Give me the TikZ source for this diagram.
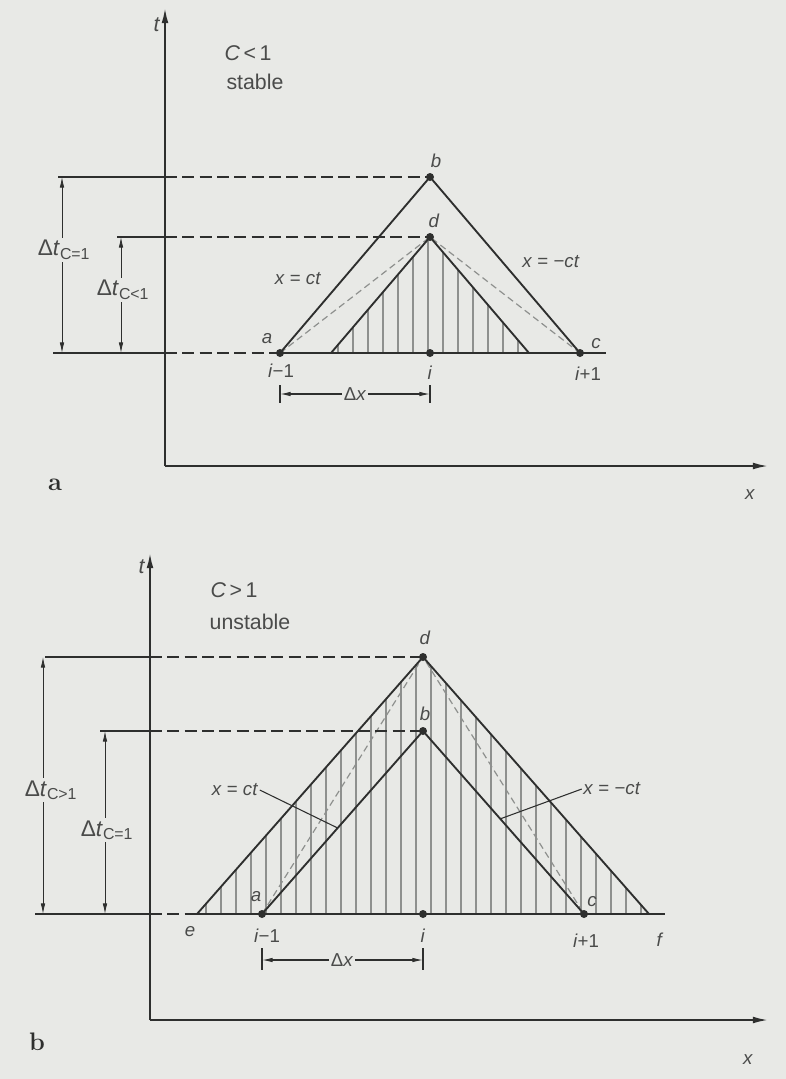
\documentclass[tikz,border=0pt]{standalone}
\usepackage{fontspec}
\setsansfont{Liberation Sans}
\usetikzlibrary{arrows.meta,calc}
\definecolor{paper}{HTML}{E8E9E6}
\definecolor{ink}{HTML}{2E2F2E}
\definecolor{txt}{HTML}{4A4B4A}
\definecolor{hatchc}{HTML}{8E908E}
\tikzset{
  >={Latex[length=2.8mm,width=1.2mm]},
  ax/.style={draw=ink, line width=1.4pt, -{Latex[length=4mm,width=1.8mm]}},
  edge/.style={draw=ink, line width=1.4pt},
  guide/.style={draw=ink, line width=0.9pt, dash pattern=on 9pt off 4pt},
  ref/.style={draw=ink, line width=0.8pt},
  dimv/.style={draw=ink, line width=0.6pt, <->},
  cfl/.style={draw=hatchc, line width=0.9pt, dash pattern=on 5pt off 3pt},
  hatch/.style={draw=hatchc, line width=0.9pt},
  lbl/.style={text=txt, font=\sffamily\fontsize{14}{14}\selectfont, inner sep=1pt},
  big/.style={lbl, font=\sffamily\fontsize{16}{16}\selectfont},
  dt/.style={lbl, font=\sffamily\fontsize{17}{17}\selectfont, fill=paper, inner sep=1.5pt},
  panel/.style={font=\rmfamily\bfseries\fontsize{19}{19}\selectfont, text=ink},
}
\begin{document}
\begin{tikzpicture}[x=0.75pt,y=-0.75pt]
  \path[fill=paper] (0,0) rectangle (786,1079);
  \useasboundingbox (0,0) rectangle (786,1079);
  % a: C<1
  \coordinate (o1) at (165,466); \coordinate (t1) at (165,8); \coordinate (x1) at (768,466);
  \coordinate (a1) at (280,353); \coordinate (i1) at (430,353); \coordinate (c1) at (580,353);
  \coordinate (b1) at (430,177); \coordinate (d1) at (430,237);
  \coordinate (l1) at (331,353); \coordinate (r1) at (529,353); \coordinate (g1) at (606,353);
  \coordinate (tb1) at (58,177); \coordinate (td1) at (117,237); \coordinate (tz1) at (53,353);
  \coordinate (v1) at (62,177); \coordinate (w1) at (121,237);
  \begin{scope}
    \clip (l1)--(d1)--(r1)--cycle;
    \foreach \x in {338,353,...,525} \draw[hatch] (\x,230)--(\x,353);
  \end{scope}
  \draw[cfl] (a1)--(d1)--(c1);
  \draw[edge] (a1)--(b1)--(c1); \draw[edge] (l1)--(d1)--(r1); \draw[edge] (a1)--(g1);
  \draw[ax] (o1)--(t1); \draw[ax] (o1)--(x1);
  \draw[ref] (tb1)--(tb1 -| o1); \draw[guide] (tb1 -| o1)--(b1);
  \draw[ref] (td1)--(td1 -| o1); \draw[guide] (td1 -| o1)--(d1);
  \draw[ref] (tz1)--(tz1 -| o1); \draw[guide] (tz1 -| o1)--(a1);
  \draw[dimv] (v1)--(v1 |- a1); \draw[dimv] (w1)--(w1 |- a1);
  \foreach \p in {a1,i1,c1,b1,d1} \fill[ink] (\p) circle (4);
  \node[dt] (dtb1) at (64,250) {Δ\textit{t}\textsubscript{C=1}};
  \node[dt] (dtd1) at (123,290) {Δ\textit{t}\textsubscript{C<1}};
  \draw[ref] ($(a1)+(0,32)$)--($(a1)+(0,50)$); \draw[ref] ($(i1)+(0,32)$)--($(i1)+(0,50)$);
  \node[lbl] (dx1) at (355,394) {Δ\textit{x}};
  \draw[ref,->] (dx1.west)--(a1 |- dx1); \draw[ref,->] (dx1.east)--(i1 |- dx1);
  \node[big] (nt1) at (157,25) {\textit{t}};
  \node[lbl] (nx1) at (750,495) {\textit{x}};
  \node[big] (nC1) at (248,53) {\textit{C}\,<\,1};
  \node[big] (ns1) at (255,82) {stable};
  \node[panel] (pa) at (55,485) {a};
  \node[lbl] (na1) at (267,339) {\textit{a}};
  \node[lbl] (nb1) at (436,161) {\textit{b}};
  \node[lbl] (nd1) at (434,221) {\textit{d}};
  \node[lbl] (nc1) at (596,344) {\textit{c}};
  \node[lbl] (ni1) at (430,373) {\textit{i}};
  \node[lbl] (nim1) at (281,371) {\textit{i}−1};
  \node[lbl] (nip1) at (588,374) {\textit{i}+1};
  \node[lbl] (xc1) at (298,279) {\textit{x} = \textit{ct}};
  \node[lbl] (xn1) at (551,262) {\textit{x} = −\textit{ct}};
  % b: C>1
  \coordinate (o2) at (150,1020); \coordinate (t2) at (150,553); \coordinate (x2) at (768,1020);
  \coordinate (e2) at (197,914); \coordinate (a2) at (262,914); \coordinate (i2) at (423,914);
  \coordinate (c2) at (584,914); \coordinate (f2) at (649,914); \coordinate (g2) at (665,914);
  \coordinate (b2) at (423,731); \coordinate (d2) at (423,657);
  \coordinate (td2) at (45,657); \coordinate (tb2) at (100,731); \coordinate (tz2) at (35,914);
  \coordinate (v2) at (43,657); \coordinate (w2) at (105,731);
  \begin{scope}
    \clip (e2)--(d2)--(f2)--cycle;
    \foreach \x in {206,221,...,646} \draw[hatch] (\x,650)--(\x,914);
  \end{scope}
  \draw[cfl] (a2)--(d2)--(c2);
  \draw[edge] (e2)--(d2)--(f2); \draw[edge] (a2)--(b2)--(c2); \draw[edge] (e2)--(g2);
  \draw[ax] (o2)--(t2); \draw[ax] (o2)--(x2);
  \draw[ref] (td2)--(td2 -| o2); \draw[guide] (td2 -| o2)--(d2);
  \draw[ref] (tb2)--(tb2 -| o2); \draw[guide] (tb2 -| o2)--(b2);
  \draw[ref] (tz2)--(tz2 -| o2); \draw[guide] (tz2 -| o2)--(e2);
  \draw[dimv] (v2)--(v2 |- a2); \draw[dimv] (w2)--(w2 |- a2);
  \foreach \p in {a2,i2,c2,b2,d2} \fill[ink] (\p) circle (4);
  \node[dt] (dtd2) at (51,790) {Δ\textit{t}\textsubscript{C>1}};
  \node[dt] (dtb2) at (107,830) {Δ\textit{t}\textsubscript{C=1}};
  \draw[ref] ($(a2)+(0,34)$)--($(a2)+(0,56)$); \draw[ref] ($(i2)+(0,34)$)--($(i2)+(0,56)$);
  \node[lbl] (dx2) at (342,960) {Δ\textit{x}};
  \draw[ref,->] (dx2.west)--(a2 |- dx2); \draw[ref,->] (dx2.east)--(i2 |- dx2);
  \node[lbl] (xc2) at (235,790) {\textit{x} = \textit{ct}};
  \draw[ref] (xc2.east)--($(a2)!0.47!(b2)$);
  \node[lbl] (xn2) at (612,789) {\textit{x} = −\textit{ct}};
  \draw[ref] (xn2.west)--($(b2)!0.48!(c2)$);
  \node[big] (nt2) at (142,567) {\textit{t}};
  \node[lbl] (nx2) at (748,1060) {\textit{x}};
  \node[big] (nC2) at (234,590) {\textit{C}\,>\,1};
  \node[big] (ns2) at (250,622) {unstable};
  \node[panel] (pb) at (37,1042) {b};
  \node[lbl] (nd2) at (425,638) {\textit{d}};
  \node[lbl] (nb2) at (425,714) {\textit{b}};
  \node[lbl] (ne2) at (190,932) {\textit{e}};
  \node[lbl] (na2) at (256,897) {\textit{a}};
  \node[lbl] (nc2) at (592,902) {\textit{c}};
  \node[lbl] (nf2) at (660,940) {\textit{f}};
  \node[lbl] (ni2) at (423,936) {\textit{i}};
  \node[lbl] (nim2) at (267,936) {\textit{i}−1};
  \node[lbl] (nip2) at (586,941) {\textit{i}+1};
\end{tikzpicture}
\end{document}
